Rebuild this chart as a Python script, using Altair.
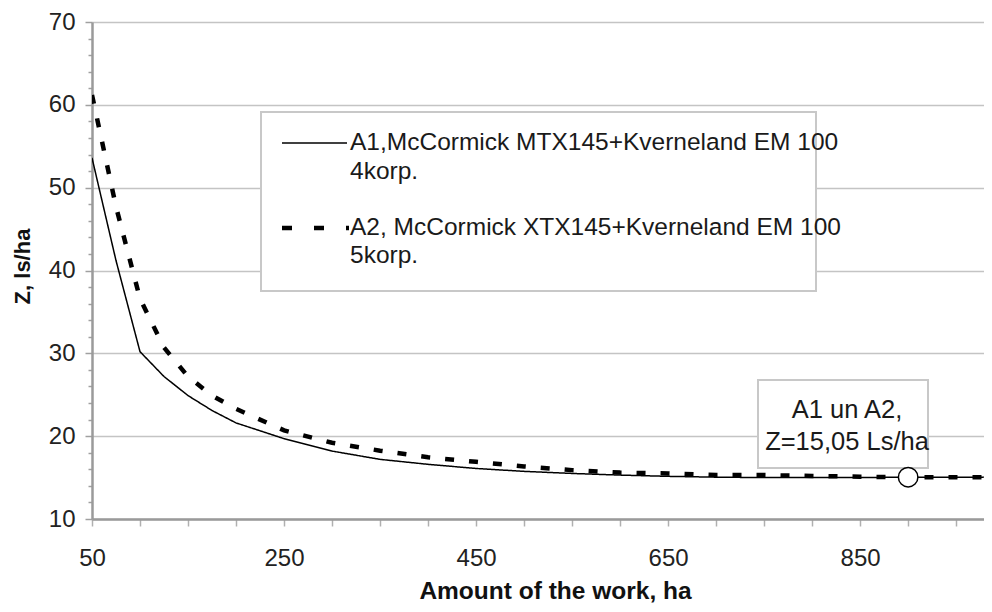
import altair as alt
import pandas as pd

# ---- data ----
work_ha = [50, 75, 100, 125, 150, 175, 200, 250, 300, 350, 400, 450, 500,
           550, 600, 650, 700, 750, 800, 850, 900, 950, 1000]
a1_z = [53.6, 41.2, 30.2, 27.2, 24.9, 23.1, 21.6, 19.7, 18.2, 17.2, 16.6, 16.1, 15.75,
        15.5, 15.3, 15.15, 15.05, 15.0, 15.0, 15.0, 15.05, 15.05, 15.05]
a2_z = [61.2, 47.7, 36.6, 30.7, 27.2, 24.9, 23.3, 20.7, 19.2, 18.25, 17.45, 16.9, 16.35,
        15.9, 15.6, 15.5, 15.3, 15.3, 15.2, 15.1, 15.05, 15.05, 15.05]
series_names = ["A1", "A2"]
x_tick_values = list(range(50, 1001, 50))
y_tick_values = list(range(10, 71, 2))
legend_a1 = ["A1,McCormick MTX145+Kverneland EM 100", "4korp."]
legend_a2 = ["A2, McCormick XTX145+Kverneland EM 100", "5korp."]
annotation_lines = ["A1 un A2,", "Z=15,05 Ls/ha"]
marker_ha = [900]
marker_z = [15.05]

FONT = "Liberation Sans"
W, H = 892, 497

rows = []
for name, vals in zip(series_names, [a1_z, a2_z]):
    for w, z in zip(work_ha, vals):
        rows.append({"work_ha": w, "z": z, "series": name})
df = pd.DataFrame(rows)

x_scale = alt.Scale(domain=[50, 979], nice=False, zero=False)
y_scale = alt.Scale(domain=[10, 70], nice=False, zero=False)

x_axis = alt.Axis(
    values=x_tick_values,
    labelExpr="(datum.value - 50) % 200 == 0 ? datum.label : ''",
    grid=False, domainColor="#9a9a9a", domainWidth=2.5,
    tickColor="#b0b0b0", tickWidth=1.5, tickSize=7,
    labelFont=FONT, labelFontSize=24, labelColor="#222222", labelPadding=20,
    labelFlush=False, labelOverlap=False,
    title="Amount of the work, ha", titleFont=FONT, titleFontSize=24.5,
    titleFontWeight="bold", titleColor="#111111",
    titleX=463, titleY=79, titleAlign="center", titleBaseline="alphabetic",
)
y_axis = alt.Axis(
    values=y_tick_values,
    labelExpr="datum.value % 10 == 0 ? datum.label : ''",
    grid=True, gridColor="#c4c4c4", gridWidth=1.5,
    gridOpacity={"condition": {"test": "datum.value % 10 == 0", "value": 1}, "value": 0},
    domainColor="#9a9a9a", domainWidth=2.5,
    tickColor="#a0a0a0", tickWidth=1.5,
    tickSize={"condition": {"test": "datum.value % 10 == 0", "value": 7}, "value": 4},
    labelFont=FONT, labelFontSize=24, labelColor="#222222", labelPadding=10,
    labelOverlap=False, labelFlush=False,
    title="Z, ls/ha", titleFont=FONT, titleFontSize=22, titleFontWeight="bold",
    titleColor="#111111", titleAngle=270, titleX=-70, titleY=244,
    titleAlign="center", titleBaseline="middle",
)

lines = alt.Chart(df).mark_line(interpolate="linear", color="black", clip=True).encode(
    x=alt.X("work_ha:Q", scale=x_scale, axis=x_axis),
    y=alt.Y("z:Q", scale=y_scale, axis=y_axis),
    detail="series:N",
    strokeDash=alt.StrokeDash("series:N", scale=alt.Scale(domain=series_names, range=[[1, 0], [9, 15]]), legend=None),
    strokeWidth=alt.StrokeWidth("series:N", scale=alt.Scale(domain=series_names, range=[1.5, 4.5]), legend=None),
    order=alt.Order("work_ha:Q"),
)

marker = alt.Chart(pd.DataFrame({"work_ha": marker_ha, "z": marker_z})).mark_point(
    shape="circle", filled=True, fill="white", stroke="black", strokeWidth=1.5, size=380, opacity=1
).encode(
    x=alt.X("work_ha:Q", scale=x_scale, axis=x_axis),
    y=alt.Y("z:Q", scale=y_scale, axis=y_axis),
)


def one():
    return pd.DataFrame({"k": [0]})


def box(x1, x2, y1, y2):
    return alt.Chart(one()).mark_rect(fill="white", stroke="#c8c8c8", strokeWidth=2).encode(
        x=alt.value(x1), x2=alt.value(x2), y=alt.value(y1), y2=alt.value(y2))


def txt(s, x, y, size=24.5, align="left"):
    return alt.Chart(pd.DataFrame({"t": [s]})).mark_text(
        align=align, baseline="middle", font=FONT, fontSize=size, color="#1a1a1a"
    ).encode(x=alt.value(x), y=alt.value(y), text="t:N")


legend_box = box(169, 724, 90, 269)
leg_solid = alt.Chart(one()).mark_rule(color="black", strokeWidth=1.5).encode(
    x=alt.value(190), x2=alt.value(255), y=alt.value(121))
leg_dash = alt.Chart(one()).mark_rule(color="black", strokeWidth=4.5, strokeDash=[10, 22]).encode(
    x=alt.value(190), x2=alt.value(257), y=alt.value(206))
leg_texts = [
    txt(legend_a1[0], 258, 121), txt(legend_a1[1], 258, 150),
    txt(legend_a2[0], 258, 206), txt(legend_a2[1], 258, 234),
]

ann_box = box(666, 836, 358, 446)
ann_texts = [txt(annotation_lines[0], 755, 388, 25.5, "center"),
             txt(annotation_lines[1], 755, 420, 25.5, "center")]

chart = alt.layer(
    lines, legend_box, leg_solid, leg_dash, *leg_texts, ann_box, *ann_texts, marker
).properties(
    width=W, height=H,
    autosize=alt.AutoSizeParams(type="none"),
    padding={"left": 84, "top": 14, "right": 0, "bottom": 85},
).configure_view(stroke="transparent").configure(background="white")

chart.save("out.html", embed_options={"renderer": "svg", "actions": False})
